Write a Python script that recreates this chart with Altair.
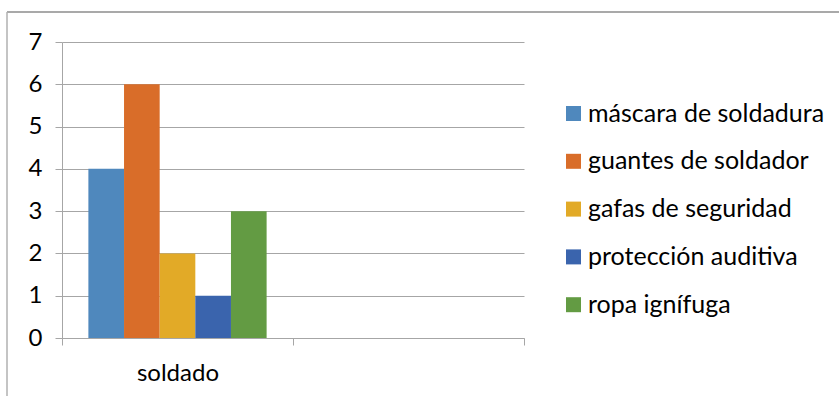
import altair as alt
import pandas as pd

# Protective equipment counts for the "soldado" group
categories = ["soldado", "vacío"]
series = [
    "máscara de soldadura",
    "guantes de soldador",
    "gafas de seguridad",
    "protección auditiva",
    "ropa ignífuga",
]
values = [4, 6, 2, 1, 3]
colors = ["#4F88BD", "#D96D29", "#E2AA27", "#3A64AD", "#639B43"]

df = pd.DataFrame({"grupo": ["soldado"] * len(series), "equipo": series, "valor": values})

FONT = "Lato"
GRID = "#A6A6A6"
FS = 24

bars = alt.Chart(df).mark_bar().encode(
    x=alt.X(
        "grupo:N",
        scale=alt.Scale(domain=categories, paddingInner=0, paddingOuter=0),
        axis=alt.Axis(
            title=None,
            labelAngle=0,
            labelExpr="datum.value == 'soldado' ? datum.value : ''",
            tickBand="extent",
            tickSize=7,
            tickColor=GRID,
            domainColor=GRID,
            labelPadding=16,
            labelFontSize=FS,
            labelColor="#000000",
            labelFont=FONT,
            grid=False,
        ),
    ),
    xOffset=alt.XOffset(
        "equipo:N",
        scale=alt.Scale(domain=series, paddingInner=0, paddingOuter=0.74),
    ),
    y=alt.Y(
        "valor:Q",
        scale=alt.Scale(domain=[0, 7], nice=False),
        axis=alt.Axis(
            title=None,
            values=list(range(0, 8)),
            tickSize=7,
            tickColor=GRID,
            domainColor=GRID,
            gridColor=GRID,
            labelPadding=13,
            labelFontSize=FS,
            labelColor="#000000",
            labelFont=FONT,
        ),
    ),
    color=alt.Color(
        "equipo:N",
        scale=alt.Scale(domain=series, range=colors),
        legend=alt.Legend(
            title=None,
            orient="none",
            legendX=499,
            legendY=59,
            symbolType="square",
            symbolSize=225,
            symbolStrokeWidth=0,
            symbolOpacity=1,
            labelFontSize=25,
            labelFont=FONT,
            labelColor="#000000",
            labelOffset=2,
            labelLimit=0,
            rowPadding=21.8,
        ),
    ),
)

# Chart-area frame (top and left edges)
frame_df = pd.DataFrame({"k": [0]})
frame_top = alt.Chart(frame_df).mark_rule(color="#8C8C8C", strokeWidth=1.5).encode(
    x=alt.value(-55), x2=alt.value(800), y=alt.value(-30)
)
frame_left = alt.Chart(frame_df).mark_rule(color="#B0B0B0", strokeWidth=1.5).encode(
    x=alt.value(-55), y=alt.value(-30), y2=alt.value(380)
)

chart = (
    alt.layer(bars, frame_top, frame_left)
    .properties(
        width=462,
        height=296,
        autosize=alt.AutoSizeParams(type="none"),
        padding={"left": 62, "top": 42, "right": 315, "bottom": 58},
        background="#FFFFFF",
    )
    .configure_view(stroke=None)
)

chart.save("out.html", embed_options={"renderer": "svg", "actions": False})
